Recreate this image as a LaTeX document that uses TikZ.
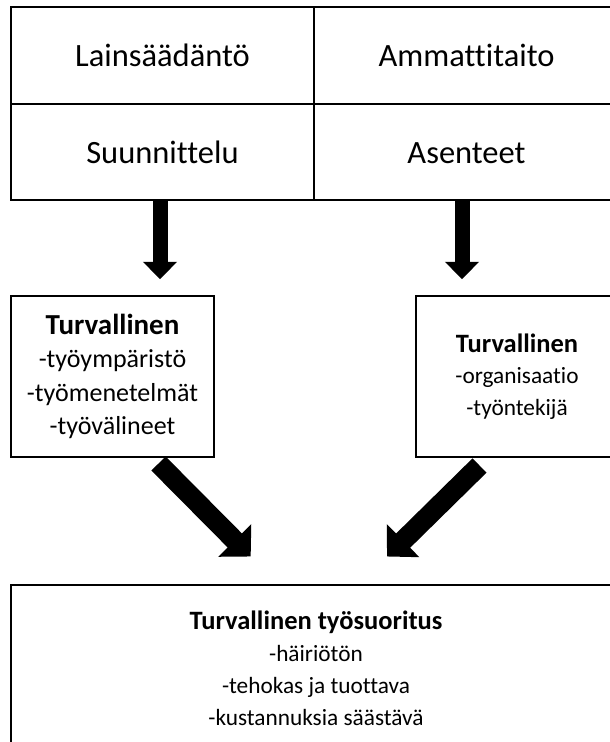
\documentclass[tikz,border=0pt]{standalone}
\usepackage{fontspec}
\setmainfont{Carlito}[Ligatures=NoCommon]
\usetikzlibrary{arrows.meta}
\newcommand{\hdA}[1]{{\fontsize{29}{33}\selectfont\bfseries #1}}
\newcommand{\hdB}[1]{{\fontsize{26.5}{32}\selectfont\bfseries #1}}
\begin{document}
\begin{tikzpicture}[x=1pt,y=-1pt,
  cell/.style={draw=black,line width=2.6pt,inner sep=0pt,text height=22pt,text depth=0pt,font=\fontsize{32.5}{38}\selectfont},
  box/.style={draw=black,line width=2.6pt,inner sep=0pt,align=center},
  downarrow/.style={line width=15pt,-{Triangle[width=33pt,length=17.5pt]}},
  diagarrow/.style={line width=20pt,-{Triangle[width=45pt,length=22.6pt]}}]
\path[use as bounding box] (0,0) rectangle (610,742);
\clip (0,0) rectangle (610,742);
\fill[white] (0,0) rectangle (610,742);
% top table
\node[cell,minimum width=303pt,minimum height=97pt] (law) at (162.5,55.5) {Lainsäädäntö};
\node[cell,minimum width=305pt,minimum height=97pt] (skill) at (466.5,55.5) {Ammattitaito};
\node[cell,minimum width=303pt,minimum height=96pt] (plan) at (162.5,152) {Suunnittelu};
\node[cell,minimum width=305pt,minimum height=96pt] (att) at (466.5,152) {Asenteet};
% middle boxes
\node[box,minimum width=203pt,minimum height=161pt,font=\fontsize{26}{33.3}\selectfont] (env) at (112.5,376.5)
  {\hdA{Turvallinen}\\-työympäristö\\-työmenetelmät\\-työvälineet};
\node[box,minimum width=202pt,minimum height=161pt,font=\fontsize{23.3}{31.5}\selectfont] (org) at (517,376.5)
  {\hdB{Turvallinen}\\-organisaatio\\-työntekijä};
% bottom box
\node[box,minimum width=610pt,minimum height=166pt,font=\fontsize{23.3}{32}\selectfont] (perf) at (316,668)
  {\hdB{Turvallinen työsuoritus}\\-häiriötön\\-tehokas ja tuottava\\-kustannuksia säästävä};
% arrow end points
\coordinate (d1s) at (160,201);
\coordinate (d1e) at (160,279.3);
\coordinate (d2s) at (462,201);
\coordinate (d2e) at (462,279.3);
\coordinate (g1s) at (158.5,463.5);
\coordinate (g1e) at (250.7,556.5);
\coordinate (g2s) at (479.5,465.5);
\coordinate (g2e) at (387,556.5);
\draw[downarrow] (d1s) -- (d1e);
\draw[downarrow] (d2s) -- (d2e);
\draw[diagarrow] (g1s) -- (g1e);
\draw[diagarrow] (g2s) -- (g2e);
\end{tikzpicture}
\end{document}
